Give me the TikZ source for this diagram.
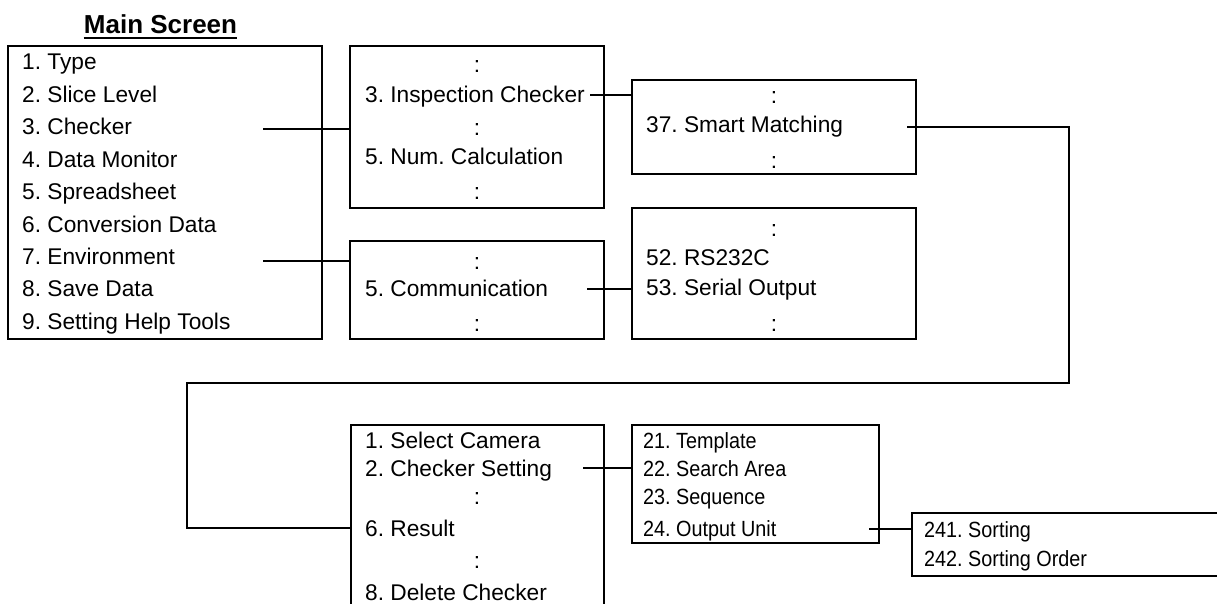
\documentclass[tikz,border=0pt]{standalone}
\usepackage{fontspec}
\setmainfont{Liberation Sans}
\newfontfamily\narrowfont[FakeStretch=0.9]{Liberation Sans}
\frenchspacing
\begin{document}
\begin{tikzpicture}[x=1pt,y=-1pt,
  box/.style={draw, line width=2.5pt, anchor=north west, inner sep=0pt, outer sep=0pt},
  item/.style={anchor=base west, inner sep=0pt, font=\fontsize{22.7}{27}\selectfont},
  dots/.style={anchor=base, inner sep=0pt, font=\fontsize{22.7}{27}\selectfont},
  narrow/.style={anchor=base west, inner sep=0pt, font=\narrowfont\fontsize{22}{27}\selectfont},
  link/.style={line width=2.5pt}]
\useasboundingbox (0,0) rectangle (1217,604);
\clip (0,0) rectangle (1217,604);

% title
\node[anchor=base, inner sep=0pt, font=\bfseries\fontsize{26}{30}\selectfont] (title) at (160.5,34) {Main Screen};
\draw[line width=2pt] ([yshift=-4.5pt]title.base west) -- ([yshift=-4.5pt]title.base east);

% menu boxes
\node[box, minimum width=314pt, minimum height=293pt] (b1) at (8,46) {};
\node[box, minimum width=254pt, minimum height=162pt] (b2) at (350,46) {};
\node[box, minimum width=254pt, minimum height=98pt] (b3) at (350,241) {};
\node[box, minimum width=284pt, minimum height=94pt] (b4) at (632,80) {};
\node[box, minimum width=284pt, minimum height=131pt] (b6) at (632,208) {};
\node[box, minimum width=253pt, minimum height=215pt] (b5) at (351,425) {};
\node[box, minimum width=247pt, minimum height=118pt] (b7) at (632,425) {};
\node[box, minimum width=348pt, minimum height=63pt] (b8) at (912,513) {};

% main screen entries
\node[item] (m1) at (22,70) {1. Type};
\node[item] (m2) at (22,102.4) {2. Slice Level};
\node[item] (m3) at (22,134.8) {3. Checker};
\node[item] (m4) at (22,167.2) {4. Data Monitor};
\node[item] (m5) at (22,199.6) {5. Spreadsheet};
\node[item] (m6) at (22,232) {6. Conversion Data};
\node[item] (m7) at (22,264.4) {7. Environment};
\node[item] (m8) at (22,296.8) {8. Save Data};
\node[item] (m9) at (22,329.2) {9. Setting Help Tools};

% checker list
\node[dots] (d21) at (477,73) {:};
\node[item] (ic) at (365,103) {3. Inspection Checker};
\node[dots] (d22) at (477,136) {:};
\node[item] (nc) at (365,165) {5. Num. Calculation};
\node[dots] (d23) at (477,199) {:};

% environment list
\node[dots] (d31) at (477,269) {:};
\node[item] (cm) at (365,296) {5. Communication};
\node[dots] (d32) at (477,331) {:};

% inspection checker list
\node[dots] (d41) at (774,104) {:};
\node[item] (sm) at (646,133) {37. Smart Matching};
\node[dots] (d42) at (774,168) {:};

% communication list
\node[dots] (d61) at (774,236) {:};
\node[item] (rs) at (646,265) {52. RS232C};
\node[item] (so) at (646,295) {53. Serial Output};
\node[dots] (d62) at (774,331) {:};

% smart matching list
\node[item] (sc) at (365,448) {1. Select Camera};
\node[item] (cs) at (365,476) {2. Checker Setting};
\node[dots] (d51) at (477,504) {:};
\node[item] (rsl) at (365,536) {6. Result};
\node[dots] (d52) at (477,568) {:};
\node[item] (dc) at (365,600) {8. Delete Checker};

% checker setting list
\node[narrow] (t21) at (643,448) {21. Template};
\node[narrow] (t22) at (643,476) {22. Search Area};
\node[narrow] (t23) at (643,504) {23. Sequence};
\node[narrow] (t24) at (643,536) {24. Output Unit};

% output unit list
\node[narrow] (t241) at (924,537) {241. Sorting};
\node[narrow] (t242) at (924,566) {242. Sorting Order};

% connectors
\coordinate (s1) at (263,129);
\draw[link] (s1) -- (s1 -| b2.west);
\coordinate (s2) at (263,261);
\draw[link] (s2) -- (s2 -| b3.west);
\coordinate (s3) at (590,95);
\draw[link] (s3) -- (s3 -| b4.west);
\coordinate (s4) at (587,289);
\draw[link] (s4) -- (s4 -| b6.west);
\coordinate (s5) at (907,127);
\coordinate (k1) at (1069,383);
\coordinate (k2) at (187,528);
\draw[link] (s5) -- (s5 -| k1) -- (k1) -- (k1 -| k2) -- (k2) -- (k2 -| b5.west);
\coordinate (s6) at (583,468);
\draw[link] (s6) -- (s6 -| b7.west);
\coordinate (s7) at (869,529);
\draw[link] (s7) -- (s7 -| b8.west);
\end{tikzpicture}
\end{document}
